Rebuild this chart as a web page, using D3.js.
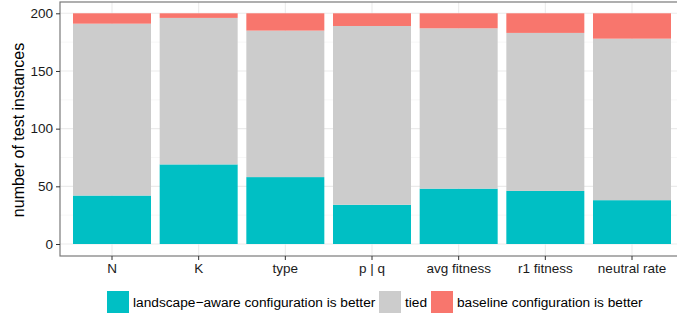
<!DOCTYPE html>
<html>
<head>
<meta charset="utf-8">
<script src="https://cdn.jsdelivr.net/npm/d3@7"></script>
<style>
  body { margin: 0; background: #fff; }
  text { font-family: "Liberation Sans", Arial, sans-serif; }
</style>
</head>
<body>
<div id="chart"></div>
<script>
// data
var categories = ["N", "K", "type", "p | q", "avg fitness", "r1 fitness", "neutral rate"];
var aware = [42, 69, 58, 34, 48, 46, 38];
var tied = [149, 127, 127, 155, 139, 137, 140];
var baseline = [9, 4, 15, 11, 13, 17, 22];
var seriesNames = ["landscape\u2212aware configuration is better", "tied", "baseline configuration is better"];
var colors = ["#00BFC4", "#CCCCCC", "#F8766D"];
var yTicks = [0, 50, 100, 150, 200];
var yMinor = [25, 75, 125, 175];

var svgWidth = 677, svgHeight = 317;
var plotLeft = 60, plotTop = 2, plotRight = 684, plotBottom = 256;

var svg = d3.select("#chart").append("svg")
    .attr("width", svgWidth)
    .attr("height", svgHeight);

// scales - step mimics the discrete axis expansion
var step = (plotRight - plotLeft) / 7.2;
var xScale = d3.scaleBand()
    .domain(categories)
    .range([plotLeft + 0.1 * step, plotRight - 0.1 * step])
    .paddingInner(0.1)
    .paddingOuter(0.05);

var yScale = d3.scaleLinear()
    .domain([0, 200])
    .range([244, 13.3]);

// gridlines
var grid = svg.append("g");
grid.selectAll(".minor").data(yMinor).enter().append("line")
    .attr("x1", plotLeft).attr("x2", plotRight)
    .attr("y1", d => yScale(d)).attr("y2", d => yScale(d))
    .attr("stroke", "#f2f2f2").attr("stroke-width", 0.6);
grid.selectAll(".major").data(yTicks).enter().append("line")
    .attr("x1", plotLeft).attr("x2", plotRight)
    .attr("y1", d => yScale(d)).attr("y2", d => yScale(d))
    .attr("stroke", "#ebebeb").attr("stroke-width", 1.1);
grid.selectAll(".vmajor").data(categories).enter().append("line")
    .attr("x1", d => xScale(d) + xScale.bandwidth() / 2)
    .attr("x2", d => xScale(d) + xScale.bandwidth() / 2)
    .attr("y1", plotTop).attr("y2", plotBottom)
    .attr("stroke", "#ebebeb").attr("stroke-width", 1.1);

// stacked bars
var rows = categories.map(function(c, i) {
  return { cat: c, aware: aware[i], tied: tied[i], baseline: baseline[i] };
});
var stack = d3.stack().keys(["aware", "tied", "baseline"])(rows);

svg.append("g").selectAll("g").data(stack).enter().append("g")
    .attr("fill", (d, i) => colors[i])
    .selectAll("rect").data(d => d).enter().append("rect")
    .attr("x", d => xScale(d.data.cat))
    .attr("width", xScale.bandwidth())
    .attr("y", d => yScale(d[1]))
    .attr("height", d => yScale(d[0]) - yScale(d[1]));

// panel border
svg.append("rect")
    .attr("x", plotLeft).attr("y", plotTop)
    .attr("width", plotRight - plotLeft).attr("height", plotBottom - plotTop)
    .attr("fill", "none").attr("stroke", "#7a7a7a").attr("stroke-width", 1.2);

// axes
var yAxis = d3.axisLeft(yScale).tickValues(yTicks).tickSize(4).tickPadding(3);
var gy = svg.append("g").attr("transform", `translate(${plotLeft},0)`).call(yAxis);
gy.select(".domain").remove();
gy.selectAll("line").attr("stroke", "#333333");
gy.selectAll("text").attr("font-size", 13.5).attr("fill", "#1a1a1a");

var xAxis = d3.axisBottom(xScale).tickSize(4).tickPadding(3);
var gx = svg.append("g").attr("transform", `translate(0,${plotBottom})`).call(xAxis);
gx.select(".domain").remove();
gx.selectAll("line").attr("stroke", "#333333");
gx.selectAll("text").attr("font-size", 13.5).attr("fill", "#1a1a1a");

// y label
svg.append("text")
    .attr("transform", `translate(24,${(plotTop + plotBottom) / 2 + 1})rotate(-90)`)
    .attr("text-anchor", "middle")
    .attr("font-size", 16)
    .attr("fill", "#000")
    .text("number of test instances");

// legend
var legendX = [107, 379, 431];
var legend = svg.append("g");
seriesNames.forEach(function(name, i) {
  legend.append("rect")
      .attr("x", legendX[i]).attr("y", 291)
      .attr("width", 22).attr("height", 22)
      .attr("fill", colors[i]);
  legend.append("text")
      .attr("x", legendX[i] + 26).attr("y", 307)
      .attr("font-size", 13.7)
      .attr("fill", "#000")
      .text(name);
});
</script>
</body>
</html>
